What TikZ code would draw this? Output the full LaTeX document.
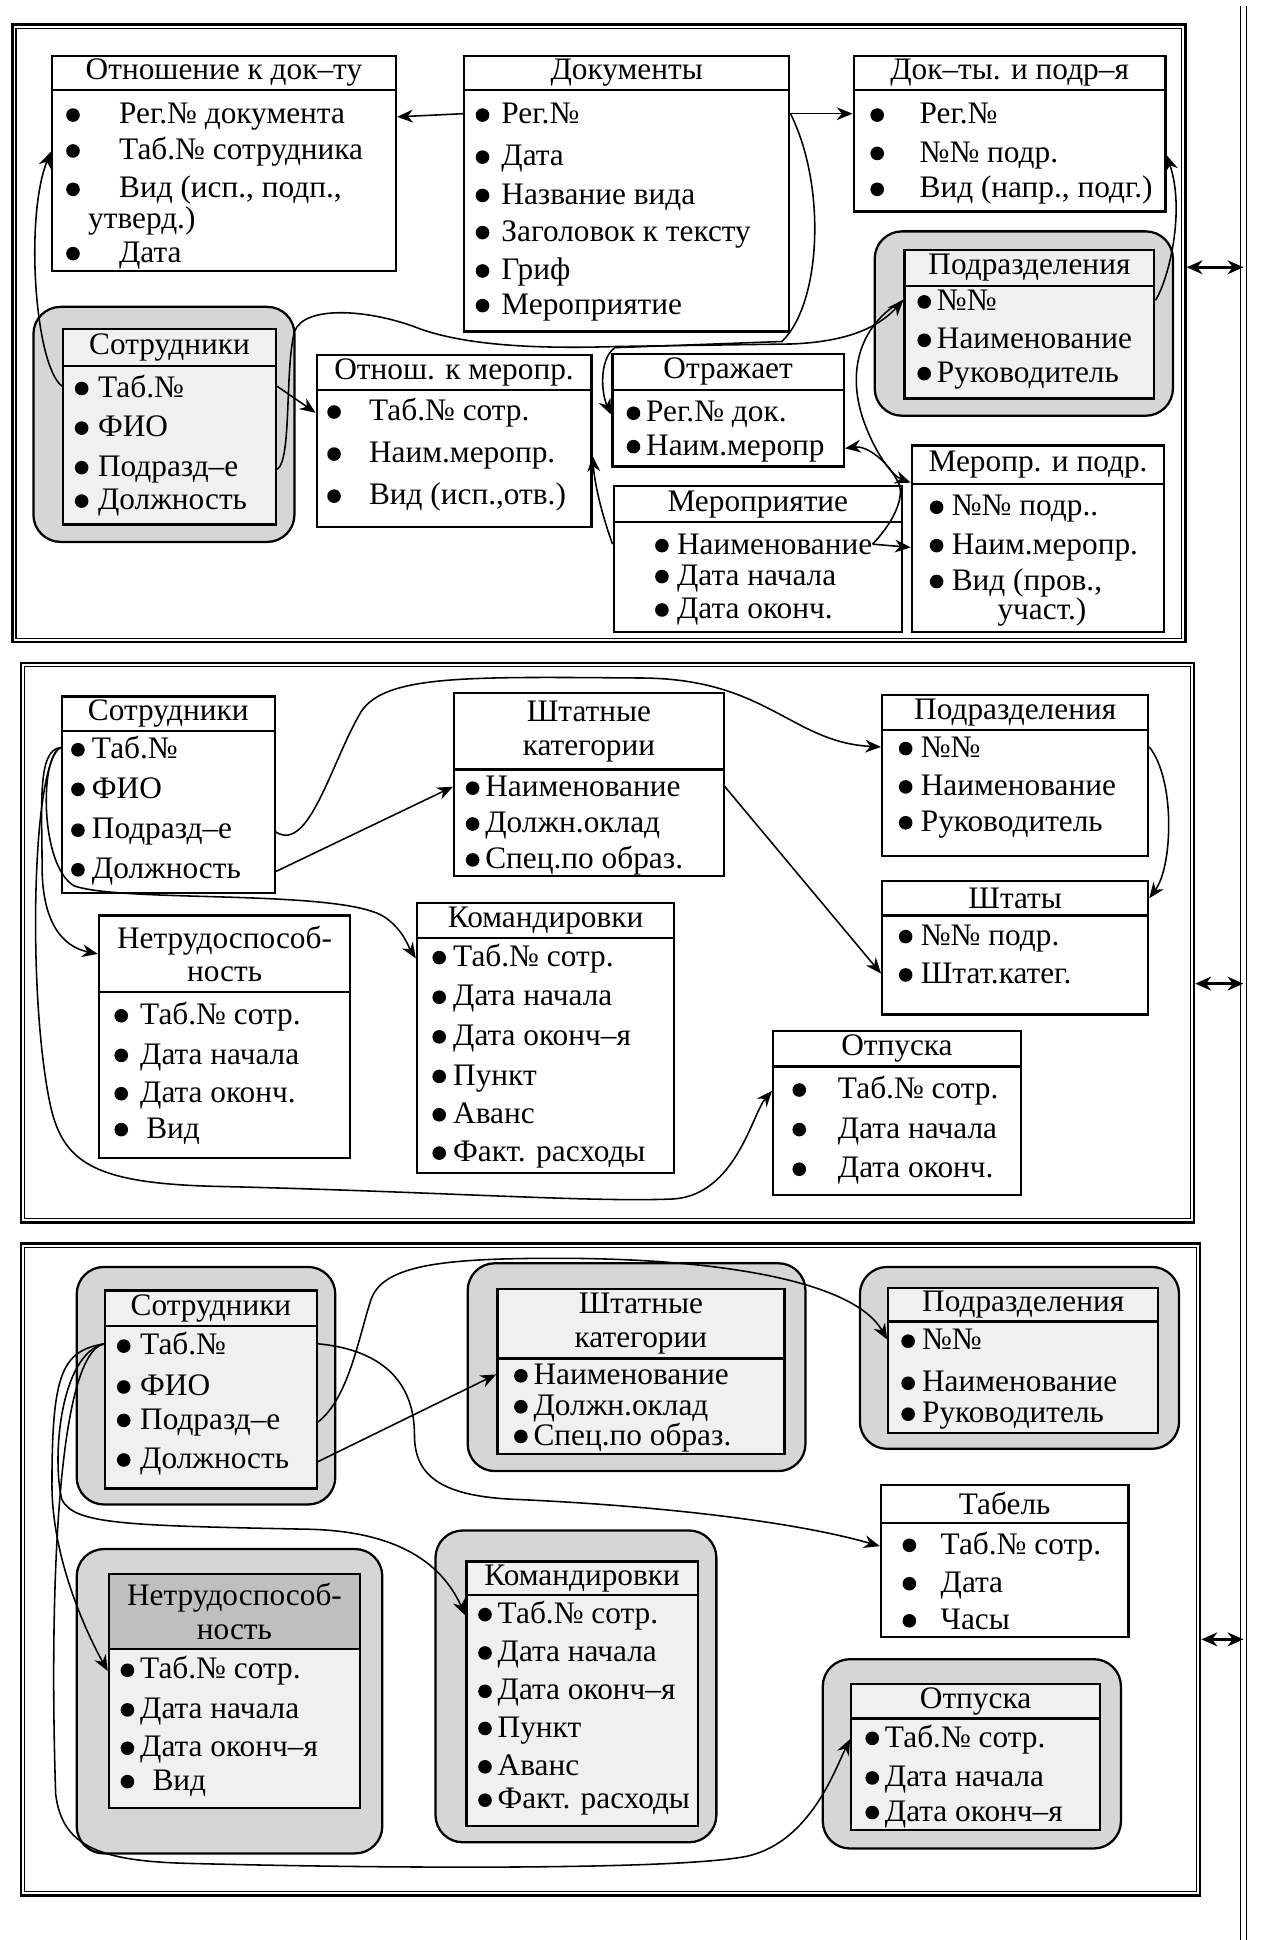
\documentclass[tikz,border=0pt]{standalone}
\usepackage{fontspec}
\setmainfont{Liberation Serif}
\usetikzlibrary{arrows.meta, positioning, fit, calc}
\newcommand{\police}{\fontsize{18}{19.5}\selectfont}
\tikzset{
  entete/.style={rectangle, draw, line width=1.3pt, fill=white, inner sep=0pt},
  titre/.style={font=\police, align=center, inner sep=0pt},
  corps/.style={rectangle, draw, line width=1.3pt, fill=white, inner sep=0pt},
  grise/.style={fill=black!6},
  champ/.style={anchor=base west, inner sep=0pt, font=\police},
  ombre/.style={rectangle, rounded corners=0.55cm, draw, line width=1.3pt, fill=black!16, inner sep=0pt},
  cadre/.style={rectangle, draw, line width=1.5pt, inner sep=0pt},
  cadrefin/.style={line width=0.6pt},
  fleche/.style={-{Stealth[length=3.2mm, width=2.6mm]}, line width=0.9pt},
  flechedouble/.style={{Stealth[length=3.2mm, width=2.8mm]}-{Stealth[length=3.2mm, width=2.8mm]}, line width=1.6pt}
}

\begin{document}
\begin{tikzpicture}[x=0.025cm, y=-0.025cm]
  \useasboundingbox (0,0) rectangle (1028,1568);

  \node[cadre, fit={(10,20)(958,519)}] (p1) {};
  \node[cadre, fit={(17,536)(965,988)}] (p2) {};
  \node[cadre, fit={(17,1005)(970,1532)}] (p3) {};
  \foreach \p in {p1, p2, p3} {
    \draw[cadrefin] ($(\p.north west)+(4,4)$) rectangle ($(\p.south east)+(-4,-4)$);
  }
  \coordinate (vh) at (1005,5);
  \coordinate (vb) at (1005,1568);
  \draw[double, double distance=2.5pt, line width=0.8pt] (vh) -- (vb);
  \coordinate (r1) at (0,216);
  \coordinate (r2) at (0,795);
  \coordinate (r3) at (0,1325);
  \draw[flechedouble] (p1.east |- r1) -- (vh |- r1);
  \draw[flechedouble] (p2.east |- r2) -- (vh |- r2);
  \draw[flechedouble] (p3.east |- r3) -- (vh |- r3);

  % premier schema
  \node[ombre, fit={(707,187)(948,336)}] (pd1-o) {};
  \node[ombre, fit={(27,248)(238,438)}] (s1-o) {};

  \node[corps, fit={(42,73)(320,219)}] (otn) {};
  \node[entete, fit={(42,45)(320,73)}, label={[titre]center:Отношение к док–ту}] (otn-t) {};
  \foreach \txt/\yy [count=\i] in {Рег.№ документа/93, Таб.№ сотрудника/122, {Вид (исп., подп.,}/153, Дата/205} {
    \fill (59,\yy) circle[radius=5.5];
    \node[champ] (otn-\i) at (96,\yy+7) {\txt};
  }
  \node[champ] (otn-u) at (71,185) {утверд.)};

  \node[corps, fit={(375,73)(638,268)}] (doc) {};
  \node[entete, fit={(375,45)(638,73)}, label={[titre]center:Документы}] (doc-t) {};
  \foreach \txt/\yy [count=\i] in {Рег.№/93, Дата/127, Название вида/158, Заголовок к тексту/188, Гриф/219, Мероприятие/247} {
    \fill (390,\yy) circle[radius=5.5];
    \node[champ] (doc-\i) at (405,\yy+7) {\txt};
  }

  \node[corps, fit={(690,73)(942,171)}] (dp) {};
  \node[entete, fit={(690,45)(942,73)}, label={[titre]center:Док–ты. и подр–я}] (dp-t) {};
  \foreach \txt/\yy [count=\i] in {Рег.№/93, №№ подр./124, {Вид (напр., подг.)}/153} {
    \fill (709,\yy) circle[radius=5.5];
    \node[champ] (dp-\i) at (743,\yy+7) {\txt};
  }

  \node[corps, grise, fit={(731,231)(933,322)}] (pd1) {};
  \node[entete, grise, fit={(731,202)(933,231)}, label={[titre]center:Подразделения}] (pd1-t) {};
  \foreach \txt/\yy [count=\i] in {№№/244, Наименование/275, Руководитель/302} {
    \fill (747,\yy) circle[radius=5.5];
    \node[champ] (pd1-\i) at (757,\yy+7) {\txt};
  }

  \node[corps, grise, fit={(51,296)(223,424)}] (s1) {};
  \node[entete, grise, fit={(51,266)(223,296)}, label={[titre]center:Сотрудники}] (s1-t) {};
  \foreach \txt/\yy [count=\i] in {Таб.№/314, ФИО/346, Подразд–е/378, Должность/405} {
    \fill (66,\yy) circle[radius=5.5];
    \node[champ] (s1-\i) at (79,\yy+7) {\txt};
  }

  \node[corps, fit={(256,315)(478,426)}] (om) {};
  \node[entete, fit={(256,287)(478,315)}, label={[titre]center:Отнош. к меропр.}] (om-t) {};
  \foreach \txt/\yy [count=\i] in {Таб.№ сотр./333, Наим.меропр./367, {Вид (исп.,отв.)}/401} {
    \fill (270,\yy) circle[radius=5.5];
    \node[champ] (om-\i) at (298,\yy+7) {\txt};
  }

  \node[corps, fit={(495,315)(682,377)}] (otr) {};
  \node[entete, fit={(495,286)(682,315)}, label={[titre]center:Отражает}] (otr-t) {};
  \foreach \txt/\yy [count=\i] in {Рег.№ док./334, Наим.меропр/361} {
    \fill (512,\yy) circle[radius=5.5];
    \node[champ] (otr-\i) at (522,\yy+7) {\txt};
  }

  \node[corps, fit={(496,422)(729,511)}] (mer) {};
  \node[entete, fit={(496,393)(729,422)}, label={[titre]center:Мероприятие}] (mer-t) {};
  \foreach \txt/\yy [count=\i] in {Наименование/441, Дата начала/466, Дата оконч./493} {
    \fill (535,\yy) circle[radius=5.5];
    \node[champ] (mer-\i) at (547,\yy+7) {\txt};
  }

  \node[corps, fit={(737,391)(941,511)}] (mp) {};
  \node[entete, fit={(737,360)(941,391)}, label={[titre]center:Меропр. и подр.}] (mp-t) {};
  \foreach \txt/\yy [count=\i] in {№№ подр../410, Наим.меропр./441, {Вид (пров.,}/470} {
    \fill (757,\yy) circle[radius=5.5];
    \node[champ] (mp-\i) at (769,\yy+7) {\txt};
  }
  \node[champ] (mp-u) at (806,501) {участ.)};

  \draw[fleche] (doc.west |- doc-1) -- (otn.east |- otn-1);
  \draw[fleche] (doc.east |- doc-1) -- (dp.west |- dp-1);
  \draw[fleche] (doc.east |- doc-1) .. controls (668,150) and (664,245) .. (632,276)
    -- (497,281) .. controls (484,290) and (486,318) .. (otr.west |- otr-1);
  \draw[fleche] (s1.east |- s1-3) .. controls (236,372) and (230,300) .. (238,268)
    .. controls (246,246) and (300,250) .. (340,266) .. controls (380,280) and (440,282) .. (500,280)
    -- (640,278) .. controls (690,276) and (712,262) .. (pd1.west |- pd1-1);
  \draw[fleche] (s1.west |- s1-1) .. controls (28,295) and (20,175) .. (otn.west |- otn-2);
  \draw[fleche] (s1.east |- s1-1) -- (om.west |- om-1);
  \draw[fleche] (mer.west |- mer-1) .. controls (488,420) and (481,395) .. (om.east |- om-2);
  \draw[fleche] (mer-1.east) .. controls (724,420) and (730,402) .. (727,392)
    .. controls (718,372) and (700,360) .. (otr.east |- otr-2);
  \draw[fleche] (mer-1.east) -- (mp.west |- mp-2);
  \draw[fleche] (pd1.west |- pd1-1) .. controls (695,262) and (684,300) .. (698,340)
    .. controls (708,368) and (722,385) .. (mp.north west);
  \draw[fleche] (pd1.east |- pd1-1) .. controls (945,225) and (958,170) .. (dp.east |- dp-2);

  % second schema
  \node[corps, fit={(50,591)(222,722)}] (s2) {};
  \node[entete, fit={(50,563)(222,591)}, label={[titre]center:Сотрудники}] (s2-t) {};
  \foreach \txt/\yy [count=\i] in {Таб.№/606, ФИО/638, Подразд–е/671, Должность/703} {
    \fill (63,\yy) circle[radius=5.5];
    \node[champ] (s2-\i) at (74,\yy+7) {\txt};
  }

  \node[corps, fit={(367,622)(585,708)}] (sk2) {};
  \node[entete, fit={(367,560)(585,622)}, label={[titre]center:{Штатные\\категории}}] (sk2-t) {};
  \foreach \txt/\yy [count=\i] in {Наименование/637, Должн.оклад/666, Спец.по образ./695} {
    \fill (382,\yy) circle[radius=5.5];
    \node[champ] (sk2-\i) at (392,\yy+7) {\txt};
  }

  \node[corps, fit={(713,590)(928,692)}] (pd2) {};
  \node[entete, fit={(713,562)(928,590)}, label={[titre]center:Подразделения}] (pd2-t) {};
  \foreach \txt/\yy [count=\i] in {№№/605, Наименование/636, Руководитель/665} {
    \fill (732,\yy) circle[radius=5.5];
    \node[champ] (pd2-\i) at (744,\yy+7) {\txt};
  }

  \node[corps, fit={(713,740)(928,820)}] (sht) {};
  \node[entete, fit={(713,712)(928,740)}, label={[titre]center:Штаты}] (sht-t) {};
  \foreach \txt/\yy [count=\i] in {№№ подр./757, Штат.катег./788} {
    \fill (732,\yy) circle[radius=5.5];
    \node[champ] (sht-\i) at (744,\yy+7) {\txt};
  }

  \node[corps, fit={(80,802)(283,936)}] (nt2) {};
  \node[entete, fit={(80,740)(283,802)}, label={[titre]center:{Нетрудоспособ-\\ность}}] (nt2-t) {};
  \foreach \txt/\yy [count=\i] in {Таб.№ сотр./821, Дата начала/853, Дата оконч./884} {
    \fill (98,\yy) circle[radius=5.5];
    \node[champ] (nt2-\i) at (113,\yy+7) {\txt};
  }
  \fill (98,913) circle[radius=5.5];
  \node[champ] (nt2-4) at (118,920) {Вид};

  \node[corps, fit={(337,758)(545,948)}] (km2) {};
  \node[entete, fit={(337,730)(545,758)}, label={[titre]center:Командировки}] (km2-t) {};
  \foreach \txt/\yy [count=\i] in {Таб.№ сотр./774, Дата начала/806, Дата оконч–я/838, Пункт/870, Аванс/901, Факт. расходы/932} {
    \fill (355,\yy) circle[radius=5.5];
    \node[champ] (km2-\i) at (366,\yy+7) {\txt};
  }

  \node[corps, fit={(625,862)(825,966)}] (ot2) {};
  \node[entete, fit={(625,833)(825,862)}, label={[titre]center:Отпуска}] (ot2-t) {};
  \foreach \txt/\yy [count=\i] in {Таб.№ сотр./881, Дата начала/913, Дата оконч./945} {
    \fill (646,\yy) circle[radius=5.5];
    \node[champ] (ot2-\i) at (677,\yy+7) {\txt};
  }

  \draw[fleche] (s2.east |- s2-3) .. controls (250,690) and (268,615) .. (292,575)
    .. controls (312,545) and (380,547) .. (520,548) .. controls (620,549) and (640,600) .. (pd2.west |- pd2-1);
  \draw[fleche] (s2.east |- s2-4) -- (sk2.west |- sk2-1);
  \draw[fleche] (sk2.east |- sk2-1) -- (sht.west |- sht-2);
  \draw[fleche] (pd2.east |- pd2-1) .. controls (950,630) and (948,700) .. (sht-t.east);
  \draw[fleche] (s2.west |- s2-1) .. controls (30,606) and (34,650) .. (34,700)
    .. controls (34,745) and (50,765) .. (nt2-t.west);
  \draw[fleche] (s2.west |- s2-1) .. controls (32,610) and (32,700) .. (60,716)
    .. controls (100,730) and (280,718) .. (312,742) .. controls (326,752) and (330,765) .. (km2.west |- km2-1);
  \draw[fleche] (s2.west |- s2-1) .. controls (26,615) and (22,800) .. (40,890)
    .. controls (50,940) and (75,957) .. (180,959) .. controls (350,963) and (480,972) .. (545,969)
    .. controls (595,965) and (608,900) .. (ot2.west |- ot2-1);

  % troisieme schema
  \node[ombre, fit={(62,1024)(271,1216)}] (s3-o) {};
  \node[ombre, fit={(378,1021)(651,1189)}] (sk3-o) {};
  \node[ombre, fit={(695,1024)(953,1171)}] (pd3-o) {};
  \node[ombre, fit={(62,1252)(309,1498)}] (nt3-o) {};
  \node[ombre, fit={(352,1237)(579,1489)}] (km3-o) {};
  \node[ombre, fit={(665,1341)(906,1494)}] (ot3-o) {};

  \node[corps, grise, fit={(85,1072)(256,1203)}] (s3) {};
  \node[entete, grise, fit={(85,1043)(256,1072)}, label={[titre]center:Сотрудники}] (s3-t) {};
  \foreach \txt/\yy [count=\i] in {Таб.№/1088, ФИО/1121, Подразд–е/1148, Должность/1180} {
    \fill (100,\yy) circle[radius=5.5];
    \node[champ] (s3-\i) at (113,\yy+7) {\txt};
  }

  \node[corps, grise, fit={(402,1098)(634,1175)}] (sk3) {};
  \node[entete, grise, fit={(402,1042)(634,1098)}, label={[titre]center:{Штатные\\категории}}] (sk3-t) {};
  \foreach \txt/\yy [count=\i] in {Наименование/1112, Должн.оклад/1137, Спец.по образ./1161} {
    \fill (421,\yy) circle[radius=5.5];
    \node[champ] (sk3-\i) at (431,\yy+7) {\txt};
  }

  \node[corps, grise, fit={(718,1068)(936,1158)}] (pd3) {};
  \node[entete, grise, fit={(718,1041)(936,1068)}, label={[titre]center:Подразделения}] (pd3-t) {};
  \foreach \txt/\yy [count=\i] in {№№/1084, Наименование/1118, Руководитель/1143} {
    \fill (734,\yy) circle[radius=5.5];
    \node[champ] (pd3-\i) at (745,\yy+7) {\txt};
  }

  \node[corps, fit={(712,1231)(912,1323)}] (tab) {};
  \node[entete, fit={(712,1200)(912,1231)}, label={[titre]center:Табель}] (tab-t) {};
  \foreach \txt/\yy [count=\i] in {Таб.№ сотр./1249, Дата/1280, Часы/1310} {
    \fill (735,\yy) circle[radius=5.5];
    \node[champ] (tab-\i) at (760,\yy+7) {\txt};
  }

  \node[corps, grise, fit={(88,1333)(291,1461)}] (nt3) {};
  \node[entete, fill=black!25, fit={(88,1272)(291,1333)}, label={[titre]center:{Нетрудоспособ-\\ность}}] (nt3-t) {};
  \foreach \txt/\yy [count=\i] in {Таб.№ сотр./1350, Дата начала/1382, Дата оконч–я/1413} {
    \fill (103,\yy) circle[radius=5.5];
    \node[champ] (nt3-\i) at (113,\yy+7) {\txt};
  }
  \fill (103,1440) circle[radius=5.5];
  \node[champ] (nt3-4) at (123,1447) {Вид};

  \node[corps, grise, fit={(377,1289)(564,1476)}] (km3) {};
  \node[entete, grise, fit={(377,1262)(564,1289)}, label={[titre]center:Командировки}] (km3-t) {};
  \foreach \txt/\yy [count=\i] in {Таб.№ сотр./1305, Дата начала/1336, Дата оконч–я/1367, Пункт/1397, Аванс/1428, Факт. расходы/1455} {
    \fill (392,\yy) circle[radius=5.5];
    \node[champ] (km3-\i) at (402,\yy+7) {\txt};
  }

  \node[corps, grise, fit={(688,1389)(889,1479)}] (ot3) {};
  \node[entete, grise, fit={(688,1361)(889,1389)}, label={[titre]center:Отпуска}] (ot3-t) {};
  \foreach \txt/\yy [count=\i] in {Таб.№ сотр./1405, Дата начала/1437, Дата оконч–я/1465} {
    \fill (705,\yy) circle[radius=5.5];
    \node[champ] (ot3-\i) at (715,\yy+7) {\txt};
  }

  \draw[fleche] (s3.east |- s3-1) .. controls (300,1090) and (335,1110) .. (335,1160)
    .. controls (335,1195) and (360,1210) .. (420,1212) .. controls (550,1218) and (650,1232) .. (tab.west |- tab-1);
  \draw[fleche] (s3.east |- s3-3) .. controls (282,1130) and (290,1080) .. (300,1050)
    .. controls (310,1022) and (360,1017) .. (450,1017) .. controls (580,1017) and (690,1035) .. (pd3.west |- pd3-1);
  \draw[fleche] (s3.east |- s3-4) -- (sk3.west |- sk3-1);
  \draw[fleche] (s3.west |- s3-1) .. controls (50,1092) and (42,1110) .. (42,1200)
    .. controls (42,1260) and (70,1320) .. (nt3.west |- nt3-1);
  \draw[fleche] (s3.west |- s3-1) .. controls (48,1095) and (42,1180) .. (50,1212)
    .. controls (60,1232) and (100,1233) .. (250,1236) .. controls (330,1238) and (360,1270) .. (km3.west |- km3-1);
  \draw[fleche] (s3.west |- s3-1) .. controls (45,1095) and (40,1300) .. (45,1450)
    .. controls (50,1492) and (80,1504) .. (150,1506) .. controls (300,1510) and (550,1512) .. (605,1500)
    .. controls (655,1488) and (675,1430) .. (ot3.west |- ot3-1);
\end{tikzpicture}
\end{document}
